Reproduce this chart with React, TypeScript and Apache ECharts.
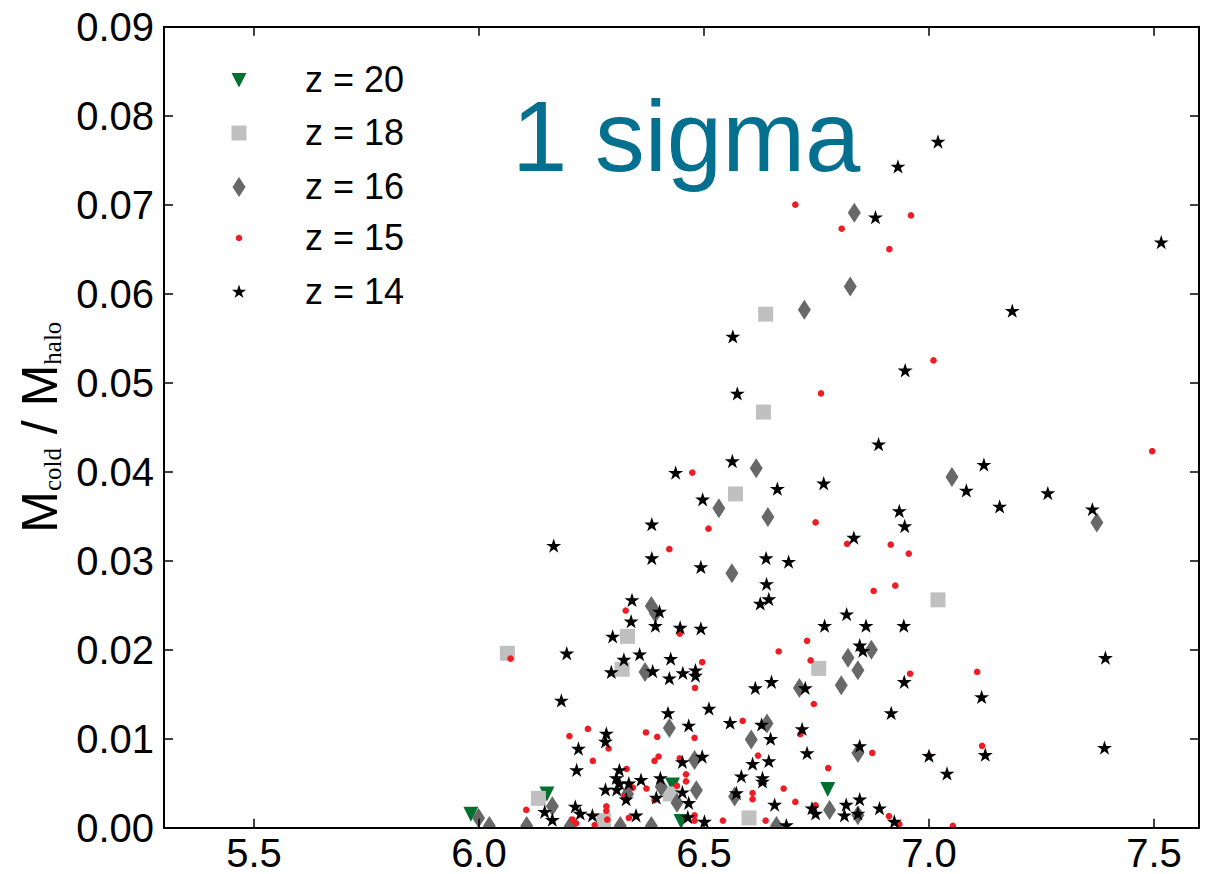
import React, { useEffect, useRef } from "react";
import * as echarts from "echarts";

const xTickValues = [5.5, 6.0, 6.5, 7.0, 7.5];
const legendLabels = ["z = 20", "z = 18", "z = 16", "z = 15", "z = 14"];
const titleText = "1 sigma";

const z20: number[][] = [
  [5.982, 0.0015], [6.151, 0.0038], [6.43, 0.0048], [6.449, 0.0007], [6.775, 0.0043],
];

const z18: number[][] = [
  [6.063, 0.0196], [6.132, 0.0033], [6.277, 0.0008], [6.318, 0.0178], [6.33, 0.0215],
  [6.425, 0.0038], [6.57, 0.0375], [6.6, 0.0011], [6.632, 0.0467], [6.637, 0.0577],
  [6.755, 0.0179], [7.02, 0.0256],
];

const z16: number[][] = [
  [5.999, 0.0011], [6.023, 0.0002], [6.106, 0.0002], [6.163, 0.0024], [6.203, 0.0002],
  [6.314, 0.0002], [6.33, 0.0038], [6.369, 0.0175], [6.383, 0.0249], [6.392, 0.0241],
  [6.383, 0.0002], [6.405, 0.0046], [6.423, 0.0112], [6.44, 0.0028], [6.479, 0.0076],
  [6.483, 0.0042], [6.533, 0.0359], [6.562, 0.0286], [6.568, 0.0035], [6.605, 0.0099],
  [6.616, 0.0404], [6.64, 0.0117], [6.642, 0.0349], [6.661, 0.0002], [6.712, 0.0157],
  [6.723, 0.0582], [6.779, 0.002], [6.805, 0.016], [6.82, 0.0191], [6.825, 0.0608],
  [6.834, 0.0691], [6.842, 0.0177], [6.842, 0.0084], [6.842, 0.0014], [6.872, 0.02],
  [7.051, 0.0394], [7.373, 0.0343],
];

const z15: number[][] = [
  [6.07, 0.019], [6.105, 0.002], [6.201, 0.0103], [6.208, 0.0009], [6.216, 0.0005],
  [6.242, 0.0111], [6.253, 0.0075], [6.257, 0.0003], [6.283, 0.0024], [6.283, 0.0019],
  [6.285, 0.0009], [6.288, 0.0089], [6.323, 0.0035], [6.326, 0.0244], [6.328, 0.0066],
  [6.333, 0.0011], [6.342, 0.0045], [6.371, 0.0107], [6.372, 0.0044], [6.39, 0.0075],
  [6.39, 0.0031], [6.396, 0.0102], [6.399, 0.008], [6.423, 0.0313], [6.44, 0.0047],
  [6.446, 0.0218], [6.446, 0.0078], [6.46, 0.006], [6.46, 0.0052], [6.474, 0.0399],
  [6.479, 0.0101], [6.479, 0.0014], [6.479, 0.0008], [6.48, 0.0157], [6.496, 0.0186],
  [6.51, 0.0336], [6.542, 0.0008], [6.586, 0.012], [6.608, 0.0039], [6.608, 0.0032],
  [6.62, 0.0081], [6.637, 0.0008], [6.666, 0.0198], [6.677, 0.0044], [6.703, 0.0029],
  [6.703, 0.07], [6.714, 0.0105], [6.729, 0.021], [6.737, 0.0188], [6.744, 0.0139],
  [6.748, 0.0025], [6.748, 0.0343], [6.76, 0.0488], [6.776, 0.0067], [6.806, 0.0673],
  [6.818, 0.0319], [6.874, 0.0084], [6.877, 0.0266], [6.911, 0.0013], [6.912, 0.065],
  [6.915, 0.0318], [6.925, 0.0272], [6.934, 0.0004], [6.955, 0.0308], [6.958, 0.0173],
  [6.96, 0.0688], [7.0, 0.0081], [7.01, 0.0525], [7.053, 0.0002], [7.107, 0.0175],
  [7.118, 0.0092], [7.496, 0.0423],
];

const z14: number[][] = [
  [6.146, 0.0018], [6.163, 0.0009], [6.166, 0.0317], [6.183, 0.0143], [6.195, 0.0196],
  [6.214, 0.0024], [6.217, 0.0065], [6.221, 0.0089], [6.225, 0.0016], [6.252, 0.0014],
  [6.281, 0.0097], [6.281, 0.0043], [6.283, 0.0106], [6.294, 0.0175], [6.297, 0.0215],
  [6.305, 0.0056], [6.306, 0.0043], [6.312, 0.0065], [6.312, 0.005], [6.322, 0.0189],
  [6.327, 0.0032], [6.333, 0.005], [6.338, 0.0232], [6.34, 0.0256], [6.349, 0.0014],
  [6.357, 0.0195], [6.36, 0.0054], [6.384, 0.0341], [6.384, 0.0303], [6.386, 0.0176],
  [6.392, 0.0227], [6.394, 0.0034], [6.401, 0.0243], [6.403, 0.0056], [6.42, 0.0129],
  [6.423, 0.0168], [6.426, 0.019], [6.437, 0.0399], [6.447, 0.0225], [6.452, 0.0074],
  [6.452, 0.004], [6.453, 0.0174], [6.464, 0.0012], [6.466, 0.0115], [6.466, 0.0028],
  [6.481, 0.0177], [6.481, 0.0171], [6.493, 0.0293], [6.493, 0.0224], [6.496, 0.008],
  [6.497, 0.0369], [6.501, 0.0007], [6.511, 0.0134], [6.558, 0.0118], [6.563, 0.0412],
  [6.564, 0.0552], [6.572, 0.0039], [6.574, 0.0488], [6.583, 0.0058], [6.608, 0.0072],
  [6.614, 0.0157], [6.625, 0.0252], [6.628, 0.0116], [6.63, 0.0056], [6.63, 0.0052],
  [6.638, 0.0303], [6.639, 0.0274], [6.644, 0.0257], [6.644, 0.0075], [6.648, 0.01],
  [6.65, 0.0164], [6.657, 0.0026], [6.663, 0.0381], [6.683, 0.0003], [6.688, 0.0299],
  [6.718, 0.0111], [6.725, 0.0157], [6.729, 0.0084], [6.74, 0.0022], [6.748, 0.0016],
  [6.766, 0.0387], [6.768, 0.0227], [6.812, 0.0014], [6.816, 0.0026], [6.817, 0.024],
  [6.833, 0.0326], [6.842, 0.0016], [6.846, 0.0205], [6.846, 0.0092], [6.846, 0.0032],
  [6.853, 0.0199], [6.86, 0.0227], [6.881, 0.0686], [6.888, 0.0431], [6.89, 0.0022],
  [6.916, 0.0129], [6.923, 0.0007], [6.931, 0.0743], [6.934, 0.0356], [6.944, 0.0227],
  [6.945, 0.0164], [6.946, 0.0339], [6.947, 0.0514], [7.0, 0.0081], [7.02, 0.0771],
  [7.04, 0.0061], [7.083, 0.0379], [7.117, 0.0147], [7.122, 0.0408], [7.125, 0.0082],
  [7.157, 0.0361], [7.185, 0.0581], [7.264, 0.0376], [7.363, 0.0358], [7.39, 0.009],
  [7.392, 0.0191], [7.516, 0.0658],
];

const FONT = "'Liberation Sans', Arial, Helvetica, sans-serif";
const GREEN = "#00702e";
const SILVER = "#c0c0c0";
const DIMGRAY = "#686868";
const RED = "#ee1c24";
const BLACK = "#000000";
const TITLE = "#04708f";

const STAR_PTS: number[][] = [
  [0, -1], [0.2245, -0.309], [0.951, -0.309], [0.363, 0.118], [0.588, 0.809],
  [0, 0.382], [-0.588, 0.809], [-0.363, 0.118], [-0.951, -0.309], [-0.2245, -0.309],
];
const STAR_PATH =
  "path://" +
  STAR_PTS.map((p, i) => `${i === 0 ? "M" : "L"}${(p[0] * 100).toFixed(2)},${(p[1] * 100).toFixed(2)}`).join(" ") +
  " Z";

export default function App() {
  const ref = useRef<HTMLDivElement>(null);
  useEffect(() => {
    if (!ref.current) return;
    const chart = echarts.init(ref.current, undefined, { renderer: "svg" });

    const gridLeft = 164;
    const gridTop = 26.7;
    const gridRight = 1217 - 1199;
    const gridBottom = 874 - 827.7;

    const legendX = 239;
    const legendYs = [80, 133, 187, 238, 292];
    const legendTextX = 305;

    const legendMarkers: any[] = [
      {
        type: "polygon",
        shape: { points: [[legendX - 7.5, legendYs[0] - 7], [legendX + 7.5, legendYs[0] - 7], [legendX, legendYs[0] + 7.5]] },
        style: { fill: GREEN },
      },
      {
        type: "rect",
        shape: { x: legendX - 7.5, y: legendYs[1] - 7.5, width: 15, height: 15 },
        style: { fill: SILVER },
      },
      {
        type: "polygon",
        shape: { points: [[legendX, legendYs[2] - 10], [legendX + 6.5, legendYs[2]], [legendX, legendYs[2] + 10], [legendX - 6.5, legendYs[2]]] },
        style: { fill: DIMGRAY },
      },
      {
        type: "circle",
        shape: { cx: legendX, cy: legendYs[3], r: 3.3 },
        style: { fill: RED },
      },
      {
        type: "polygon",
        shape: { points: STAR_PTS.map((p) => [legendX + p[0] * 7.5, legendYs[4] + p[1] * 7.5]) },
        style: { fill: BLACK },
      },
    ];

    const legendTexts = legendLabels.map((t, i) => ({
      type: "text",
      x: legendTextX,
      y: legendYs[i] - 1,
      style: { text: t, fontSize: 36, fontFamily: FONT, fill: "#000", verticalAlign: "middle", align: "left" },
    }));

    const option: any = {
      animation: false,
      backgroundColor: "#ffffff",
      grid: { left: gridLeft, top: gridTop, right: gridRight, bottom: gridBottom, containLabel: false },
      xAxis: [
        {
          type: "value",
          min: 5.3,
          max: 7.6,
          position: "bottom",
          z: 10,
          splitLine: { show: false },
          axisLine: { show: true, onZero: false, lineStyle: { color: "#000", width: 2 } },
          axisTick: { show: true, inside: true, length: 9, customValues: xTickValues, lineStyle: { color: "#000", width: 1.5 } },
          axisLabel: {
            show: true,
            customValues: xTickValues,
            formatter: (v: number) => v.toFixed(1),
            fontSize: 40,
            lineHeight: 38,
            fontFamily: FONT,
            color: "#000",
            margin: 6,
          },
        },
        {
          type: "value",
          min: 5.3,
          max: 7.6,
          position: "top",
          z: 10,
          splitLine: { show: false },
          axisLine: { show: true, onZero: false, lineStyle: { color: "#000", width: 2 } },
          axisTick: { show: true, inside: true, length: 9, customValues: xTickValues, lineStyle: { color: "#000", width: 1.5 } },
          axisLabel: { show: false },
        },
      ],
      yAxis: [
        {
          type: "value",
          min: 0,
          max: 0.09,
          interval: 0.01,
          position: "left",
          z: 10,
          splitLine: { show: false },
          axisLine: { show: true, onZero: false, lineStyle: { color: "#000", width: 2 } },
          axisTick: { show: true, inside: true, length: 9, lineStyle: { color: "#000", width: 1.5 } },
          axisLabel: {
            formatter: (v: number) => v.toFixed(2),
            fontSize: 40,
            fontFamily: FONT,
            color: "#000",
            margin: 10,
          },
          name: "{m|M}{s|cold}{m| / M}{s|halo}",
          nameLocation: "middle",
          nameRotate: 90,
          nameGap: 93,
          nameTextStyle: {
            rich: {
              m: { fontSize: 50, fontFamily: FONT, color: "#000", lineHeight: 50 },
              s: { fontSize: 25, fontFamily: "'Liberation Serif', 'DejaVu Serif', serif", color: "#000", lineHeight: 26, verticalAlign: "bottom" },
            },
          },
        },
        {
          type: "value",
          min: 0,
          max: 0.09,
          interval: 0.01,
          position: "right",
          z: 10,
          splitLine: { show: false },
          axisLine: { show: true, onZero: false, lineStyle: { color: "#000", width: 2 } },
          axisTick: { show: true, inside: true, length: 9, lineStyle: { color: "#000", width: 1.5 } },
          axisLabel: { show: false },
        },
      ],
      series: [
        { name: "z = 20", type: "scatter", data: z20, symbol: "triangle", symbolRotate: 180, symbolSize: 15, itemStyle: { color: GREEN, opacity: 1 }, silent: true, xAxisIndex: 0, yAxisIndex: 0 },
        { name: "z = 18", type: "scatter", data: z18, symbol: "rect", symbolSize: 15, itemStyle: { color: SILVER, opacity: 1 }, silent: true, xAxisIndex: 0, yAxisIndex: 0 },
        { name: "z = 16", type: "scatter", data: z16, symbol: "diamond", symbolSize: [13, 20], itemStyle: { color: DIMGRAY, opacity: 1 }, silent: true, xAxisIndex: 0, yAxisIndex: 0 },
        { name: "z = 15", type: "scatter", data: z15, symbol: "circle", symbolSize: 6.6, itemStyle: { color: RED, opacity: 1 }, silent: true, xAxisIndex: 0, yAxisIndex: 0 },
        { name: "z = 14", type: "scatter", data: z14, symbol: STAR_PATH, symbolSize: [15, 14.3], itemStyle: { color: BLACK, opacity: 1 }, silent: true, xAxisIndex: 0, yAxisIndex: 0 },
      ],
      graphic: [
        {
          type: "rect",
          z: 5,
          silent: true,
          shape: { x: 165, y: 828.8, width: 1033, height: 14 },
          style: { fill: "#ffffff" },
        },
        {
          type: "text",
          z: 6,
          x: 512,
          y: 136,
          style: { text: titleText, fontSize: 99.5, fontFamily: FONT, fill: TITLE, verticalAlign: "middle", align: "left" },
        },
        ...legendMarkers.map((m) => ({ ...m, z: 6, silent: true })),
        ...legendTexts.map((t) => ({ ...t, z: 6, silent: true })),
      ],
    };

    chart.setOption(option);
    return () => chart.dispose();
  }, []);

  return (
    <div
      ref={ref}
      style={{ position: "fixed", left: 0, top: 0, width: 1217, height: 874, background: "#fff" }}
    />
  );
}
